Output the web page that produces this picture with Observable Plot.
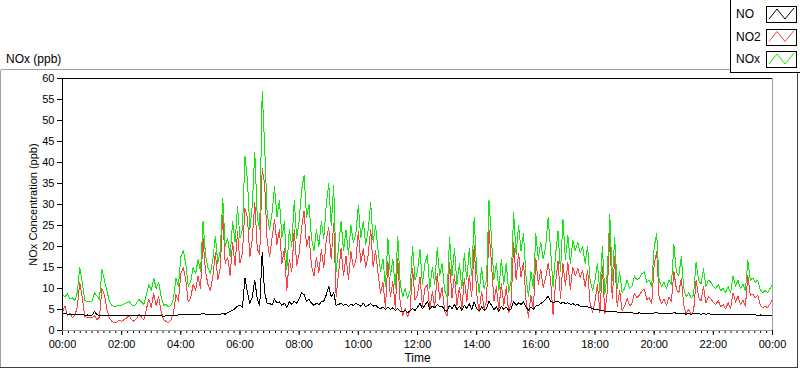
<!DOCTYPE html>
<html><head><meta charset="utf-8">
<script src="https://cdn.jsdelivr.net/npm/d3@7"></script>
<script src="https://cdn.jsdelivr.net/npm/@observablehq/plot@0.6"></script>
<style>
body{margin:0;background:#fff;}
#chart{position:relative;width:800px;height:369px;overflow:hidden;}
</style></head><body><div id="chart"></div>
<script>
// ---- data (5-minute samples from 00:00 to 24:00) ----
const startTime = "2020-01-01T00:00:00Z";
const stepMinutes = 5;
const seriesNames = ["NO", "NO2", "NOx"];
const seriesColors = ["#000000", "#ff4040", "#10e810"];
const yTicks = [0,5,10,15,20,25,30,35,40,45,50,55,60];
const xTickLabels = ["00:00","02:00","04:00","06:00","08:00","10:00","12:00","14:00","16:00","18:00","20:00","22:00","00:00"];

const NOx = [
8.5,8.0,8.8,7.5,7.8,7.2,9.0,15.0,11.5,7.2,6.8,7.0,
7.0,9.0,8.2,7.5,14.5,12.0,9.5,7.0,6.0,5.6,5.8,6.0,
6.0,6.3,6.6,7.0,6.2,5.8,6.5,7.4,6.8,6.2,8.5,11.0,
9.5,12.5,10.0,11.5,8.0,6.0,6.2,5.6,6.0,7.5,12.5,10.5,
17.5,19.0,16.0,10.5,11.5,15.0,13.5,17.0,14.0,26.0,18.0,15.0,
13.5,17.0,22.5,16.0,19.0,31.5,20.0,22.0,17.5,26.0,21.0,29.5,
22.0,24.0,41.5,36.0,24.0,30.0,42.5,27.0,24.0,57.0,44.0,28.0,
24.0,28.0,34.2,27.0,31.0,22.0,26.0,14.6,24.0,20.0,31.0,22.0,
26.0,33.5,37.0,27.0,30.0,22.0,19.0,24.0,20.0,26.0,22.0,30.0,
35.0,25.0,34.5,14.0,20.0,26.0,19.0,24.0,18.0,25.0,21.0,23.0,
29.8,22.0,26.0,20.5,24.0,30.5,21.0,25.0,19.0,14.0,17.0,10.5,
22.0,13.0,17.0,10.0,22.4,11.0,8.0,10.0,7.6,9.5,20.0,12.0,
14.0,19.3,11.0,16.0,18.0,10.0,15.0,11.0,19.8,13.0,16.0,9.5,
8.0,22.2,13.0,19.5,11.0,16.0,10.0,18.4,12.0,19.5,13.0,27.0,
14.0,9.0,15.0,10.0,12.0,31.0,22.0,12.0,16.0,9.5,17.0,11.0,
16.0,9.0,12.0,28.0,18.0,25.0,19.0,23.0,13.0,8.0,14.0,10.0,
23.0,17.0,21.0,17.0,20.0,27.0,19.0,10.3,18.0,23.6,14.0,26.5,
17.0,22.7,16.0,21.5,19.0,21.0,18.5,20.0,16.0,20.0,12.0,9.5,
12.0,16.0,9.0,20.0,8.5,14.0,27.6,12.0,22.1,10.0,14.0,9.0,
10.0,12.0,10.0,10.5,13.0,12.0,12.5,13.5,14.0,11.5,12.0,10.5,
19.8,23.2,12.0,10.5,11.5,10.0,12.0,11.0,20.5,14.0,13.0,17.6,
10.0,8.0,9.0,7.8,8.5,16.2,12.0,11.0,14.7,10.5,12.0,11.5,
10.5,10.0,11.0,9.5,10.0,9.0,10.5,9.0,13.0,10.5,12.0,10.0,
11.0,9.5,16.6,12.0,12.5,11.5,12.0,9.8,9.0,9.5,9.0,10.0,
11.0];

const NO = [
4.2,4.0,3.9,3.8,3.7,3.8,3.7,3.9,3.8,3.6,3.7,3.6,
3.7,4.5,3.8,3.6,3.7,3.6,3.7,3.6,3.5,3.6,3.5,3.6,
3.6,3.5,3.6,3.5,3.6,3.5,3.6,3.5,3.5,3.6,3.5,3.6,
3.6,3.6,3.5,3.6,3.5,3.4,3.5,3.5,3.6,3.5,3.6,3.7,
3.7,3.8,3.7,3.8,3.7,3.8,3.9,3.8,3.9,4.0,3.9,3.8,
3.8,3.7,3.9,3.8,3.9,4.0,3.9,4.2,4.5,4.8,5.2,5.8,
6.0,5.5,12.5,9.0,6.5,8.0,12.0,7.5,6.0,18.5,9.0,6.5,
6.5,6.0,7.5,6.5,6.8,6.0,6.5,5.5,6.8,6.2,7.0,6.5,
7.5,9.0,8.5,7.0,7.5,6.5,6.0,6.5,6.2,6.8,7.0,8.5,
10.5,8.0,9.0,6.0,6.2,6.5,6.0,6.3,5.8,6.2,6.0,6.4,
6.2,5.8,6.5,5.6,6.0,6.4,5.8,6.0,5.5,5.2,5.6,5.0,
5.6,5.0,5.4,4.8,5.2,4.6,4.4,4.8,4.3,4.6,5.2,4.8,
5.5,6.5,5.2,6.0,7.0,5.0,5.8,5.4,6.2,5.6,5.8,4.8,
4.6,6.0,5.2,6.2,5.0,5.8,4.8,6.0,5.2,6.4,5.0,6.8,
5.2,4.6,5.6,4.8,5.2,7.0,6.0,5.0,5.6,4.6,5.8,5.0,
5.6,4.8,5.2,7.0,6.0,6.6,6.2,6.8,5.6,4.8,5.6,5.0,
5.8,6.0,6.4,6.8,7.4,8.2,7.0,6.6,6.8,7.0,6.4,6.8,
6.4,6.6,6.2,6.4,6.0,6.2,5.8,5.8,5.6,5.6,5.4,5.2,
5.0,5.0,4.8,4.8,4.6,4.6,4.6,4.5,4.5,4.4,4.4,4.3,
4.3,4.2,4.2,4.2,4.1,4.1,4.2,4.0,4.1,4.0,4.1,4.0,
4.2,4.3,4.1,4.0,4.1,4.0,4.1,4.0,4.3,4.1,4.0,4.1,
4.0,3.9,4.0,3.9,4.0,4.1,4.0,3.9,4.0,3.9,4.0,3.9,
3.9,3.8,3.9,3.8,3.9,3.8,3.9,3.8,3.9,3.8,3.8,3.9,
3.8,3.7,3.8,3.7,3.8,3.7,3.6,3.7,3.6,3.7,3.6,3.6,
3.6];

const NO2 = [
4.5,5.8,3.5,4.2,3.0,3.6,5.5,11.5,8.0,3.4,3.0,3.2,
3.0,3.5,2.6,3.2,10.0,8.5,5.0,3.0,2.2,1.8,2.0,2.4,
2.2,2.6,3.0,3.5,2.6,2.2,2.8,3.8,3.2,2.5,5.0,7.5,
5.5,8.8,6.0,8.0,4.5,2.6,2.2,1.8,2.5,4.0,8.5,7.0,
13.5,15.0,12.0,6.8,7.8,11.0,9.5,13.0,10.0,22.0,14.0,11.0,
9.5,13.0,18.5,12.0,15.0,27.5,16.0,17.5,13.0,21.0,15.5,23.5,
16.0,18.5,29.0,27.0,17.5,22.0,30.5,19.5,18.0,38.5,35.0,21.5,
17.5,22.0,26.5,20.5,24.0,16.0,19.5,9.5,17.0,14.0,24.0,15.5,
18.5,24.5,28.5,20.0,22.5,15.5,13.0,17.5,13.8,19.2,15.0,21.5,
24.5,17.0,25.5,8.0,13.8,19.5,13.0,17.7,12.2,18.8,15.0,16.6,
23.6,16.2,19.5,14.9,18.0,24.1,15.2,19.0,13.5,8.8,11.4,5.5,
16.4,8.0,11.6,5.2,17.2,6.4,3.6,5.2,3.3,4.9,14.8,7.2,
8.5,12.8,5.8,10.0,11.0,5.0,9.2,5.6,13.6,7.4,10.2,4.7,
3.4,16.2,7.8,13.3,6.0,10.2,5.2,12.4,6.8,13.1,8.0,20.2,
8.8,4.4,9.4,5.2,6.8,24.0,16.0,7.0,10.4,4.9,11.2,6.0,
10.4,4.2,6.8,21.0,12.0,18.4,12.8,16.2,7.4,3.2,8.4,5.0,
17.2,11.0,14.6,10.2,12.6,16.0,12.0,3.7,11.2,16.6,7.6,16.0,
10.6,16.1,9.8,15.1,13.0,14.8,12.7,14.2,10.4,14.4,6.6,4.3,
7.0,11.0,4.2,15.2,3.9,9.4,23.0,7.5,17.6,5.6,9.6,4.7,
5.8,7.6,5.9,6.4,8.8,7.8,8.4,9.4,9.8,7.4,7.8,6.4,
15.6,18.9,7.9,6.5,7.4,6.0,7.9,7.0,14.0,9.9,9.0,12.5,
6.0,4.0,5.0,3.8,4.5,12.0,8.0,7.0,10.5,6.6,8.0,7.6,
6.6,6.2,7.1,5.7,6.1,5.2,6.6,5.2,9.0,6.7,8.2,6.1,
7.2,5.8,13.0,8.3,8.7,7.8,8.4,6.1,5.4,5.8,5.4,6.4,
7.4];

// ---- build table ----
const t0 = new Date(startTime);
const t24 = new Date(+t0 + 24 * 3600e3);
const seriesValues = {NO: NO, NO2: NO2, NOx: NOx};
const rows = [];
for (const name of seriesNames) {
  seriesValues[name].forEach((v, i) => rows.push({series: name, time: new Date(+t0 + i * stepMinutes * 60e3), value: v}));
}
const majorTicks = d3.range(0, 25, 2).map(h => new Date(+t0 + h * 3600e3));
const minorTicks = d3.range(0, 24 * 60 + 1, 12).map(m => new Date(+t0 + m * 60e3));
const colorOf = Object.fromEntries(seriesNames.map((n, i) => [n, seriesColors[i]]));
const drawOrder = ["NO2", "NOx", "NO"];

const font = "'Liberation Sans', Arial, sans-serif";

const chart = Plot.plot({
  width: 800, height: 369,
  marginLeft: 62, marginRight: 28, marginTop: 78, marginBottom: 39,
  style: {fontFamily: font, fontSize: "11px", color: "#000", background: "transparent", overflow: "visible"},
  x: {type: "utc", domain: [t0, t24]},
  y: {domain: [0, 60]},
  marks: [
    Plot.axisY({ticks: yTicks, tickSize: 5, tickPadding: 3, label: null, tickFormat: d => String(d)}),
    Plot.axisX({ticks: minorTicks, tickSize: 3, tickFormat: () => "", label: null}),
    Plot.axisX({ticks: majorTicks, tickSize: 5, tickPadding: 5, label: null,
      tickFormat: d => xTickLabels[Math.round((d - t0) / 7.2e6)]}),
    ...drawOrder.map(name => Plot.line(rows.filter(r => r.series === name),
      {x: "time", y: "value", stroke: colorOf[name], strokeWidth: 1, shapeRendering: "crispEdges"})),
    Plot.ruleY([0], {stroke: "#a0a0a0"}),
    Plot.ruleX([t24], {stroke: "#a0a0a0"}),
    Plot.ruleY([60], {stroke: "#000"}),
    Plot.ruleX([t0], {stroke: "#000"}),
    Plot.text(["NOx Concentration (ppb)"], {frameAnchor: "left", dx: -29, rotate: -90, text: d => d, textAnchor: "middle", fontSize: 11}),
    Plot.text(["Time"], {frameAnchor: "bottom", dy: 31, text: d => d, textAnchor: "middle", fontSize: 12})
  ]
});

document.getElementById("chart").appendChild(chart);

// ---- panel decorations (LabVIEW-style frame, caption and legend) ----
const svg = d3.select(chart);
const deco = svg.insert("g", ":first-child").attr("shape-rendering", "crispEdges");
deco.append("line").attr("x1", 0.5).attr("x2", 772).attr("y1", 69.5).attr("y2", 69.5).attr("stroke", "#a0a0a0");
deco.append("line").attr("x1", 0.5).attr("x2", 0.5).attr("y1", 69.5).attr("y2", 368).attr("stroke", "#a0a0a0");
deco.append("line").attr("x1", 0).attr("x2", 798).attr("y1", 367.5).attr("y2", 367.5).attr("stroke", "#404040");
deco.append("line").attr("x1", 797.5).attr("x2", 797.5).attr("y1", 72).attr("y2", 368).attr("stroke", "#404040");

svg.append("text").attr("x", 6).attr("y", 63).attr("text-anchor", "start")
  .attr("font-family", font).attr("font-size", 12).attr("fill", "#000").text("NOx (ppb)");

const lg = svg.append("g").attr("shape-rendering", "crispEdges");
lg.append("rect").attr("x", 730.5).attr("y", -1).attr("width", 80).attr("height", 73).attr("fill", "#fff").attr("stroke", "#000");
seriesNames.forEach((name, i) => {
  const y0 = 6 + i * 22.5;
  lg.append("text").attr("x", 736).attr("y", y0 + 12).attr("text-anchor", "start")
    .attr("font-family", font).attr("font-size", 12).attr("fill", "#000").text(name);
  lg.append("rect").attr("x", 766.5).attr("y", y0 + 0.5).attr("width", 30).attr("height", 16).attr("fill", "#fff").attr("stroke", "#000");
  lg.append("polyline").attr("points", `${769},${y0 + 13} ${777},${y0 + 3} ${785},${y0 + 13} ${794},${y0 + 2}`)
    .attr("fill", "none").attr("stroke", seriesColors[i]).attr("shape-rendering", "auto");
});
</script></body></html>
